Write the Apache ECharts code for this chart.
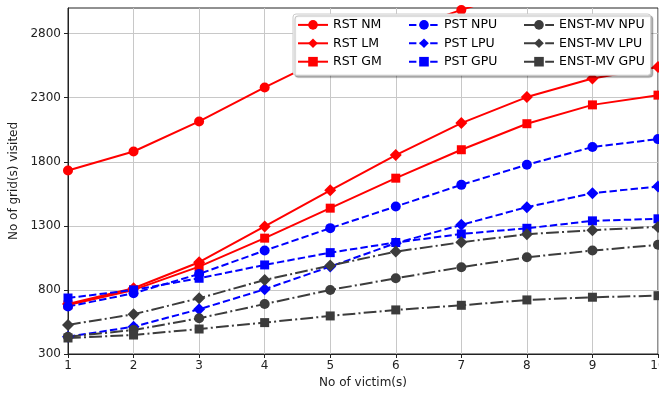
<!DOCTYPE html>
<html>
<head>
<meta charset="utf-8">
<script src="https://cdn.jsdelivr.net/npm/echarts@6/dist/echarts.min.js"></script>
<style>
    html, body { margin: 0; padding: 0; background: #fff; }
    #chart { width: 659px; height: 394px; }
</style>
</head>
<body>
<div id="chart"></div>
<script>
// x: number of victims
var victims = [1, 2, 3, 4, 5, 6, 7, 8, 9, 10];
var yTicks = [300, 800, 1300, 1800, 2300, 2800];

// RST
var rstNM = [1732, 1880, 2115, 2380, 2630, 2810, 2985, 3150, 3300, 3450];
var rstLM = [690, 813, 1016, 1295, 1577, 1852, 2102, 2305, 2450, 2540];
var rstGM = [683, 800, 982, 1204, 1438, 1672, 1894, 2097, 2244, 2320];
// PST
var pstNPU = [670, 774, 925, 1107, 1282, 1451, 1620, 1777, 1915, 1977];
var pstLPU = [435, 513, 649, 805, 982, 1165, 1308, 1446, 1555, 1607];
var pstGPU = [737, 800, 891, 995, 1091, 1170, 1237, 1281, 1339, 1355];
// ENST-MV
var enstNPU = [435, 487, 579, 690, 800, 891, 977, 1055, 1107, 1152];
var enstLPU = [527, 610, 735, 878, 990, 1099, 1172, 1235, 1266, 1292];
var enstGPU = [425, 448, 495, 545, 597, 644, 680, 722, 743, 755];

function pairs(vals) {
    return victims.map(function (x, i) { return [x, vals[i]]; });
}

var RED = '#ff0000', BLUE = '#0000ff', BLACK = '#3c3c3c';
var DASHED = [7.4, 3.2];
var DASHDOT = [12.8, 3.2, 2, 3.2];

function mk(name, vals, color, symbol, size, dash) {
    return {
        name: name,
        type: 'line',
        data: pairs(vals),
        symbol: symbol,
        symbolSize: size,
        showAllSymbol: true,
        clip: true,
        lineStyle: { color: color, width: 2, type: dash },
        itemStyle: { color: color, borderWidth: 0 },
        emphasis: { disabled: true },
        zlevel: 0,
        z: 1
    };
}

var series = [
    mk('RST NM', rstNM, RED, 'circle', 10, 'solid'),
    mk('RST LM', rstLM, RED, 'diamond', 12, 'solid'),
    mk('RST GM', rstGM, RED, 'rect', 9, 'solid'),
    mk('PST NPU', pstNPU, BLUE, 'circle', 10, DASHED),
    mk('PST LPU', pstLPU, BLUE, 'diamond', 12, DASHED),
    mk('PST GPU', pstGPU, BLUE, 'rect', 9, DASHED),
    mk('ENST-MV NPU', enstNPU, BLACK, 'circle', 10, DASHDOT),
    mk('ENST-MV LPU', enstLPU, BLACK, 'diamond', 12, DASHDOT),
    mk('ENST-MV GPU', enstGPU, BLACK, 'rect', 9, DASHDOT)
];

function legendCol(left, names) {
    return {
        data: names,
        orient: 'vertical',
        left: left,
        top: 18.4,
        padding: 0,
        itemWidth: 30,
        itemHeight: 12,
        itemGap: 5.4,
        selectedMode: false,
        textStyle: { fontFamily: 'DejaVu Sans', fontSize: 12.5, color: '#000' },
        z: 30
    };
}

// first column also carries the frame of the whole legend
var boxLegend = legendCol(293, ['RST NM', 'RST LM', 'RST GM']);
boxLegend.top = 14;
boxLegend.padding = [4.4, 269, 7, 4];
boxLegend.textStyle = { fontFamily: 'DejaVu Sans', fontSize: 12.5, color: '#000', width: 55 };
boxLegend.backgroundColor = '#ffffff';
boxLegend.borderColor = '#cccccc';
boxLegend.borderWidth = 1;
boxLegend.borderRadius = 3;
boxLegend.shadowColor = 'rgba(0,0,0,0.3)';
boxLegend.shadowOffsetX = 2;
boxLegend.shadowOffsetY = 2;
boxLegend.shadowBlur = 1;
boxLegend.z = 20;

var chart = echarts.init(document.getElementById('chart'));
var option = {
    animation: false,
    backgroundColor: '#fff',
    grid: {
        left: 68, right: 1, top: 8, bottom: 40,
        outerBoundsMode: 'none',
        containLabel: false,
        show: true, borderColor: '#222', borderWidth: 1
    },
    xAxis: {
        type: 'value',
        min: 1, max: 10, interval: 1,
        name: 'No of victim(s)',
        nameLocation: 'middle',
        nameGap: 21,
        nameTextStyle: { fontFamily: 'DejaVu Sans', fontSize: 12, color: '#222' },
        axisLine: { lineStyle: { color: '#222', width: 1 } },
        axisTick: { show: true, inside: false, length: 4, lineStyle: { color: '#222' } },
        axisLabel: { margin: 6, fontFamily: 'DejaVu Sans', fontSize: 12, color: '#222' },
        splitLine: { show: true, lineStyle: { color: '#c8c8c8', width: 1 } }
    },
    yAxis: {
        type: 'value',
        min: 300, max: 3000,
        name: 'No of grid(s) visited',
        nameLocation: 'middle',
        nameGap: 41,
        nameTextStyle: { fontFamily: 'DejaVu Sans', fontSize: 12, color: '#222' },
        axisLine: { show: true, lineStyle: { color: '#222', width: 1 } },
        axisTick: { show: true, inside: false, length: 4, customValues: yTicks, lineStyle: { color: '#222' } },
        axisLabel: {
            margin: 7, customValues: yTicks,
            formatter: function (v) { return String(v); },
            fontFamily: 'DejaVu Sans', fontSize: 12, color: '#222'
        },
        splitLine: { show: true, lineStyle: { color: '#c8c8c8', width: 1 } }
    },
    legend: [
        boxLegend,
        legendCol(408, ['PST NPU', 'PST LPU', 'PST GPU']),
        legendCol(523, ['ENST-MV NPU', 'ENST-MV LPU', 'ENST-MV GPU'])
    ],
    series: series
};
chart.setOption(option);
</script>
</body>
</html>
